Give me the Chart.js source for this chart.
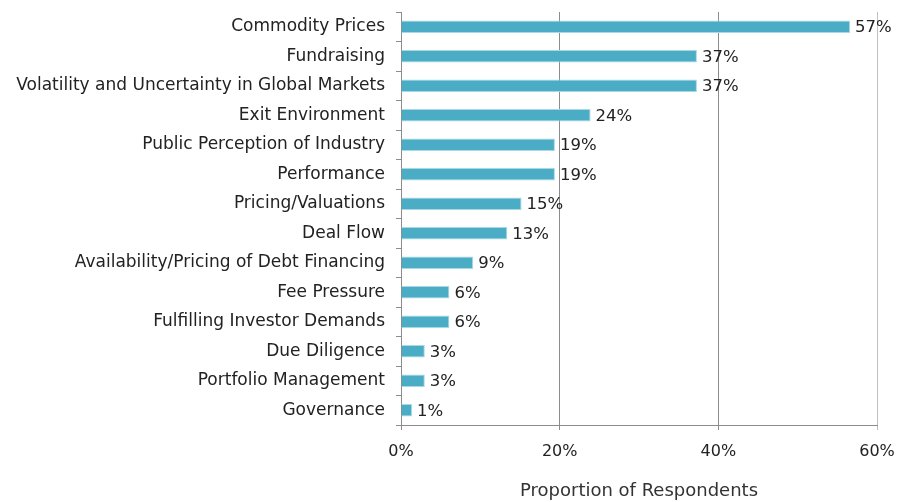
<!DOCTYPE html>
<html>
<head>
<meta charset="utf-8">
<script src="https://cdn.jsdelivr.net/npm/chart.js@4.4.1/dist/chart.umd.min.js"></script>
<style>
  html, body { margin: 0; padding: 0; background: #fff; }
  #wrap { width: 916px; height: 502px; position: relative; }
</style>
</head>
<body>
<div id="wrap"><canvas id="chart"></canvas></div>
<script>
const categories = [
  "Commodity Prices",
  "Fundraising",
  "Volatility and Uncertainty in Global Markets",
  "Exit Environment",
  "Public Perception of Industry",
  "Performance",
  "Pricing/Valuations",
  "Deal Flow",
  "Availability/Pricing of Debt Financing",
  "Fee Pressure",
  "Fulfilling Investor Demands",
  "Due Diligence",
  "Portfolio Management",
  "Governance",
];
const shares = [56.6, 37.3, 37.3, 23.9, 19.4, 19.4, 15.2, 13.4, 9.1, 6.1, 6.1, 3.0, 3.0, 1.4];
const xTicks = [0, 20, 40, 60];

const FONT = "'DejaVu Sans', sans-serif";
const TEXT = "#222";

// percentage labels just past the end of each bar
const valueLabels = {
  id: "valueLabels",
  afterDatasetsDraw(chart) {
    const { ctx } = chart;
    const meta = chart.getDatasetMeta(0);
    ctx.save();
    ctx.font = `16.5px ${FONT}`;
    ctx.fillStyle = TEXT;
    ctx.textBaseline = "middle";
    ctx.textAlign = "left";
    meta.data.forEach((bar, i) => {
      ctx.fillText(`${Math.round(shares[i])}%`, bar.x + 5, bar.y + 1);
    });
    ctx.restore();
  },
};

new Chart(document.getElementById("chart"), {
  type: "bar",
  data: {
    labels: categories,
    datasets: [{
      data: shares,
      backgroundColor: "#4aacc5",
      borderColor: "#a8d8e4",
      borderWidth: 1,
      categoryPercentage: 1,
      barPercentage: 0.43,
    }],
  },
  options: {
    indexAxis: "y",
    responsive: true,
    maintainAspectRatio: false,
    animation: false,
    layout: { padding: { top: 12, right: 39, left: 0, bottom: 0 } },
    scales: {
      x: {
        min: 0,
        max: 60,
        afterBuildTicks: (s) => { s.ticks = xTicks.map((v) => ({ value: v })); },
        afterFit: (s) => { s.height = 77; },
        border: { color: "#8c8c8c", width: 1 },
        grid: {
          color: (c) => (c.tick && c.tick.value === 60 ? "#c0c0c0" : "#8c8c8c"),
          lineWidth: 1,
          tickLength: 5,
        },
        ticks: {
          color: TEXT,
          font: { family: FONT, size: 16 },
          padding: 12,
          callback: (v) => `${v}%`,
        },
        title: {
          display: true,
          text: "Proportion of Respondents",
          color: "#333",
          font: { family: FONT, size: 18 },
          padding: { top: 10, bottom: 0 },
        },
      },
      y: {
        afterFit: (s) => {
          s.width = 401;
          s.paddingTop = 0;
          s.paddingBottom = 0;
        },
        border: { color: "#8c8c8c", width: 1 },
        grid: {
          drawOnChartArea: false,
          color: "#8c8c8c",
          tickLength: 5,
        },
        ticks: {
          color: TEXT,
          font: { family: FONT, size: 17 },
          padding: 11,
          autoSkip: false,
        },
      },
    },
    plugins: {
      legend: { display: false },
      tooltip: { enabled: false },
    },
  },
  plugins: [valueLabels],
});
</script>
</body>
</html>
